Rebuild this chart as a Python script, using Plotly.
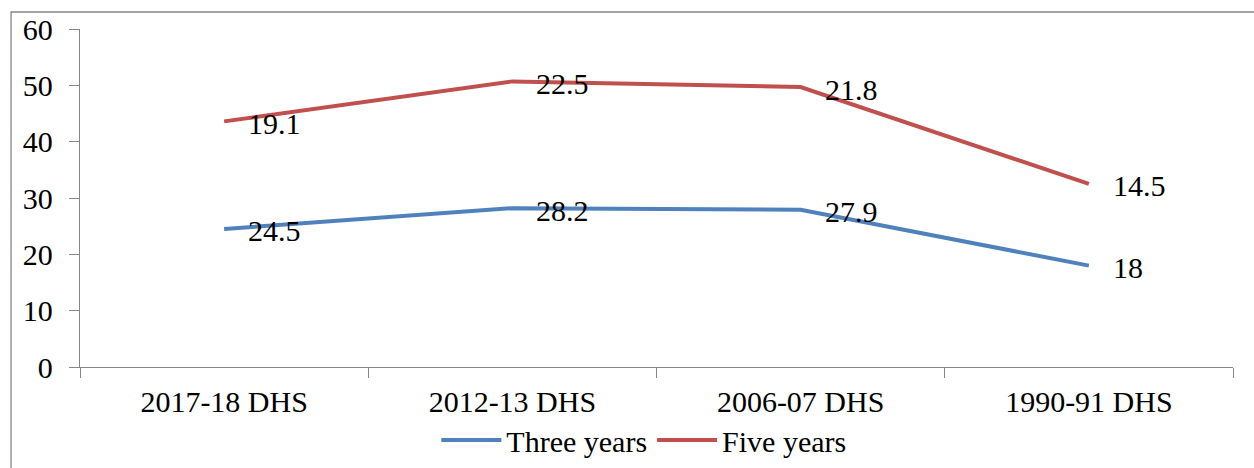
import plotly.graph_objects as go

# Survey rounds and the two stacked series (percent)
surveys = ["2017-18 DHS", "2012-13 DHS", "2006-07 DHS", "1990-91 DHS"]
three_years = [24.5, 28.2, 27.9, 18]
five_years = [19.1, 22.5, 21.8, 14.5]
y_ticks = [0, 10, 20, 30, 40, 50, 60]

BLUE = "#4F81BD"
RED = "#C0504D"
GREY = "#868686"
FONT = "Liberation Serif"

# Stacked line: second series sits on top of the first
five_stacked = [a + b for a, b in zip(three_years, five_years)]

fig = go.Figure()
fig.add_trace(go.Scatter(x=surveys, y=three_years, mode="lines", name="Three years",
                         line=dict(color=BLUE, width=4)))
fig.add_trace(go.Scatter(x=surveys, y=five_stacked, mode="lines", name="Five years",
                         line=dict(color=RED, width=4)))

annotations = []
for xs, ys, vals in [(surveys, three_years, three_years), (surveys, five_stacked, five_years)]:
    for x, y, v in zip(xs, ys, vals):
        annotations.append(dict(x=x, y=y, text=f"{v:g}", showarrow=False,
                                xanchor="left", yanchor="middle", xshift=22, yshift=-2,
                                font=dict(family=FONT, size=30, color="black")))

fig.update_layout(
    width=1254, height=468,
    margin=dict(l=80, r=21, t=29, b=101, autoexpand=False),
    paper_bgcolor="white", plot_bgcolor="white",
    font=dict(family=FONT, size=30, color="black"),
    showlegend=True,
    legend=dict(orientation="h", x=0.489, y=-0.216, xanchor="center", yanchor="middle",
                font=dict(family=FONT, size=30, color="black"), itemwidth=60,
                tracegroupgap=0, bgcolor="rgba(0,0,0,0)"),
    annotations=annotations,
    shapes=[dict(type="rect", xref="paper", yref="paper",
                 x0=-0.0598, x1=1.05, y0=-0.36, y1=1.0503,
                 line=dict(color=GREY, width=1.3), layer="below")],
)
fig.update_xaxes(type="category", range=[-0.5, len(surveys) - 0.5],
                 showline=True, linecolor=GREY, linewidth=1.3,
                 ticks="outside", tickson="boundaries", ticklen=10, tickcolor=GREY,
                 tickwidth=1.3, showgrid=False, zeroline=False,
                 tickfont=dict(family=FONT, size=30, color="black"), ticklabelstandoff=8)
fig.update_yaxes(range=[0, 60], tickvals=y_ticks, showline=True, linecolor=GREY,
                 linewidth=1.3, ticks="outside", ticklen=10, tickcolor=GREY, tickwidth=1.3,
                 showgrid=False, zeroline=False,
                 tickfont=dict(family=FONT, size=30, color="black"), ticklabelstandoff=10)

fig.write_html("out.html")
